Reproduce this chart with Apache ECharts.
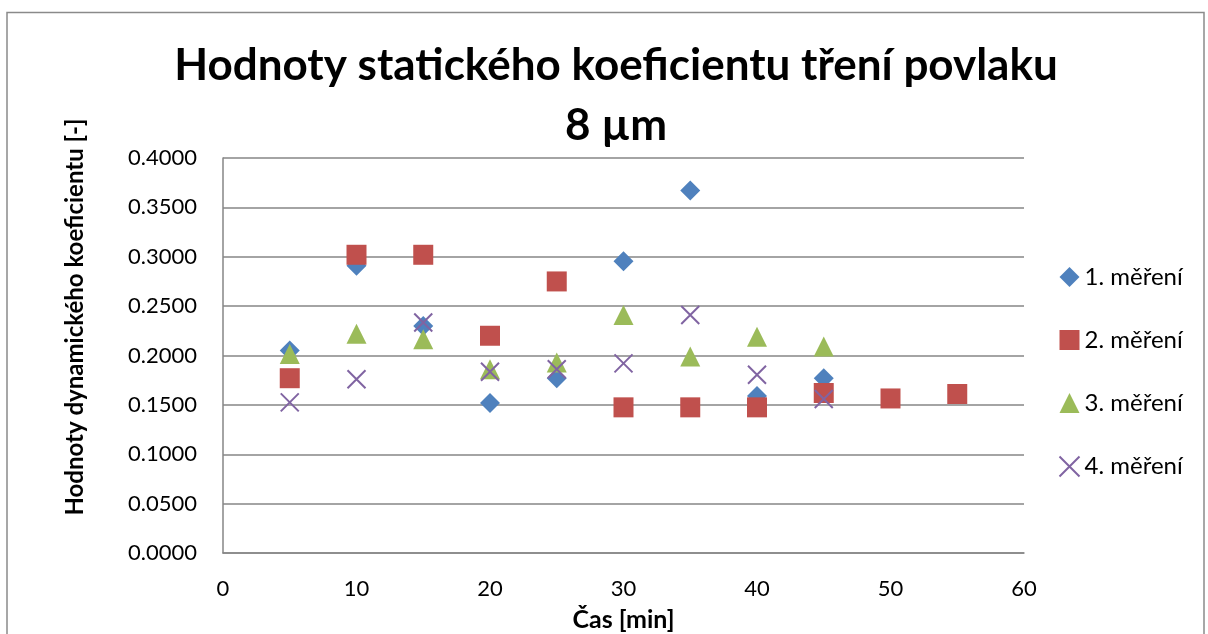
<!DOCTYPE html>
<html>
<head>
<meta charset="utf-8">
<script src="https://cdn.jsdelivr.net/npm/echarts@6/dist/echarts.min.js"></script>
<style>
html,body{margin:0;padding:0;background:#fff;}
#c{width:1208px;height:634px;}
</style>
</head>
<body>
<div id="c"></div>
<script>
// ---- data ----
var titleText = 'Hodnoty statického koeficientu tření povlaku\n8 µm';
var xAxisTitle = 'Čas [min]';
var yAxisTitle = 'Hodnoty dynamického koeficientu [-]';
var seriesNames = ['1. měření', '2. měření', '3. měření', '4. měření'];

var time1 = [5, 10, 15, 20, 25, 30, 35, 40, 45];
var mer1  = [0.205, 0.291, 0.230, 0.152, 0.177, 0.2955, 0.367, 0.159, 0.177];

var time2 = [5, 10, 15, 20, 25, 30, 35, 40, 45, 50, 55];
var mer2  = [0.177, 0.302, 0.302, 0.220, 0.275, 0.1475, 0.1475, 0.1475, 0.162, 0.1565, 0.161];

var time3 = [5, 10, 15, 20, 25, 30, 35, 40, 45];
var mer3  = [0.2015, 0.222, 0.2165, 0.186, 0.193, 0.241, 0.199, 0.219, 0.209];

var time4 = [5, 10, 15, 20, 25, 30, 35, 40, 45];
var mer4  = [0.1525, 0.176, 0.2335, 0.1835, 0.186, 0.192, 0.241, 0.1805, 0.156];

// ---- build ----
function pairs(xs, ys){ return xs.map(function(x,i){ return [x, ys[i]]; }); }

var FONT = 'Lato';
var GRID_COLOR = '#868686';
var colors = ['#4F81BD', '#C0504D', '#9BBB59', '#8064A2'];
var crossPath = 'path://M0,0L10,10M10,0L0,10';

var chart = echarts.init(document.getElementById('c'), null, {renderer:'canvas'});
chart.setOption({
  animation: false,
  backgroundColor: '#fff',
  title: {
    text: titleText,
    left: 611,
    top: 31,
    textAlign: 'center',
    textStyle: {fontFamily: FONT, fontWeight: 'bold', fontSize: 44, lineHeight: 60, color: '#000'}
  },
  grid: {left: 223, right: 184, top: 158, height: 395, containLabel: false, outerBoundsMode: 'none'},
  legend: {
    orient: 'vertical',
    left: 1057,
    top: 265,
    padding: 0,
    itemWidth: 20,
    itemHeight: 20,
    itemGap: 39,
    textStyle: {fontFamily: FONT, fontSize: 24, color: '#000'},
    data: seriesNames
  },
  xAxis: {
    type: 'value',
    min: 0, max: 60, interval: 10,
    name: xAxisTitle,
    nameLocation: 'middle',
    nameGap: 54,
    nameTextStyle: {fontFamily: FONT, fontWeight: 'bold', fontSize: 25, color: '#000'},
    axisLine: {show: true, lineStyle: {color: GRID_COLOR, width: 1.5}},
    axisTick: {show: false},
    splitLine: {show: false},
    axisLabel: {fontFamily: FONT, fontSize: 22, color: '#000', margin: 25}
  },
  yAxis: {
    type: 'value',
    min: 0, max: 0.4, interval: 0.05,
    axisLine: {show: true, lineStyle: {color: GRID_COLOR, width: 1.5}},
    axisTick: {show: false},
    splitLine: {show: true, lineStyle: {color: GRID_COLOR, width: 1.5}},
    axisLabel: {fontFamily: FONT, fontSize: 22, color: '#000', margin: 26,
      formatter: function(v){ return v.toFixed(4); }}
  },
  graphic: [
    {type: 'rect', silent: true, z: -1,
     shape: {x: 7, y: 12.5, width: 1197, height: 640},
     style: {fill: 'none', stroke: '#8a8a8a', lineWidth: 1.5}},
    {type: 'text', silent: true,
     x: 75, y: 317, rotation: Math.PI/2,
     style: {text: yAxisTitle, fontFamily: FONT, fontWeight: 'bold', fontSize: 24,
             fill: '#000', textAlign: 'center', textVerticalAlign: 'middle'}}
  ],
  series: [
    {name: seriesNames[0], type: 'scatter', symbol: 'diamond', symbolSize: 20,
     itemStyle: {color: colors[0], opacity: 1}, data: pairs(time1, mer1)},
    {name: seriesNames[1], type: 'scatter', symbol: 'rect', symbolSize: 20,
     itemStyle: {color: colors[1], opacity: 1}, data: pairs(time2, mer2)},
    {name: seriesNames[2], type: 'scatter', symbol: 'triangle', symbolSize: 20,
     itemStyle: {color: colors[2], opacity: 1}, data: pairs(time3, mer3)},
    {name: seriesNames[3], type: 'scatter', symbol: crossPath, symbolSize: 18,
     itemStyle: {color: 'none', borderColor: colors[3], borderWidth: 2, opacity: 1},
     data: pairs(time4, mer4)}
  ]
});
</script>
</body>
</html>
